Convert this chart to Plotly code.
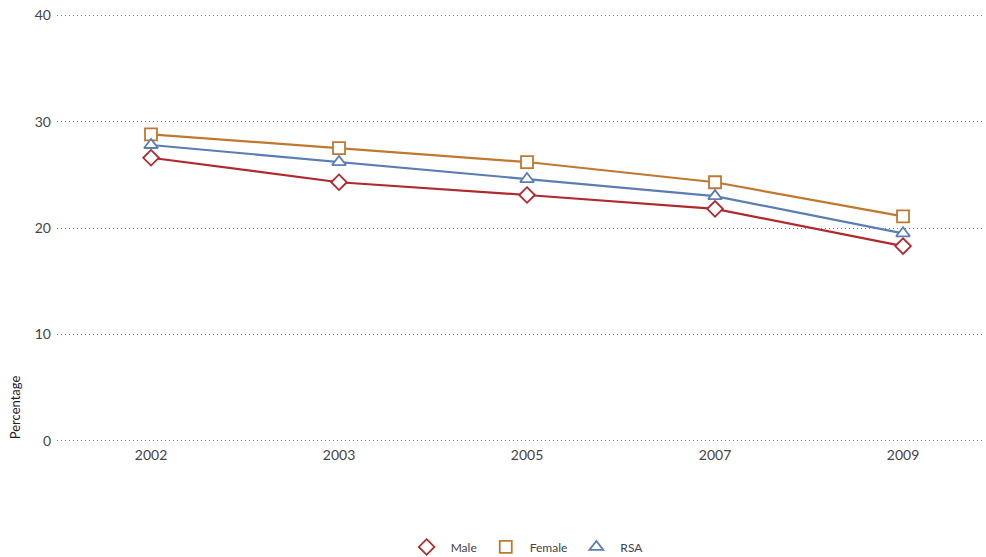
import plotly.graph_objects as go

years = ["2002", "2003", "2005", "2007", "2009"]
male = [26.6, 24.3, 23.1, 21.8, 18.3]
female = [28.8, 27.5, 26.2, 24.3, 21.1]
rsa = [27.8, 26.2, 24.6, 23.0, 19.5]
y_ticks = [0, 10, 20, 30, 40]

series = [
    ("Male", male, "#B0292F", "diamond"),
    ("Female", female, "#C0782F", "square"),
    ("RSA", rsa, "#5B7DB4", "triangle-up"),
]

fig = go.Figure()
for name, vals, color, sym in series:
    fig.add_trace(go.Scatter(
        x=years, y=vals, name=name, mode="lines+markers", showlegend=False,
        line=dict(color=color, width=2.2),
        marker=dict(symbol=sym, size=12, color="white", line=dict(color=color, width=1.8)),
    ))
for name, vals, color, sym in series:
    fig.add_trace(go.Scatter(
        x=[None], y=[None], name=name, mode="markers", showlegend=True,
        marker=dict(symbol=sym, size=12, color="white", line=dict(color=color, width=1.8)),
    ))

fig.update_layout(
    width=986, height=557,
    margin=dict(l=57, r=1, t=12, b=113, autoexpand=False),
    paper_bgcolor="white", plot_bgcolor="white",
    font=dict(family="Lato, sans-serif", size=14, color="#444"),
    showlegend=True,
    legend=dict(orientation="h", x=0.505, xanchor="center", yref="container", y=0.018,
                yanchor="middle",
                font=dict(size=12, color="#444"), itemwidth=38, tracegroupgap=0),
    xaxis=dict(type="category", range=[-0.5, 4.436], showgrid=False, zeroline=False,
               showline=False, ticks="", tickfont=dict(size=14, color="#444"),
               ticklabelstandoff=1),
    yaxis=dict(range=[-0.3, 40.3], tickvals=y_ticks, showgrid=True, gridcolor="#777",
               griddash="1px,3px", gridwidth=1, zeroline=False, showline=False,
               ticks="", tickfont=dict(size=14, color="#444"), ticklabelstandoff=5),
    annotations=[dict(text="Percentage", textangle=-90, xref="paper", yref="paper",
                      x=-0.045, y=0.007, xanchor="center", yanchor="bottom", showarrow=False,
                      font=dict(size=13, color="#222"))],
)

fig.write_html("out.html")
